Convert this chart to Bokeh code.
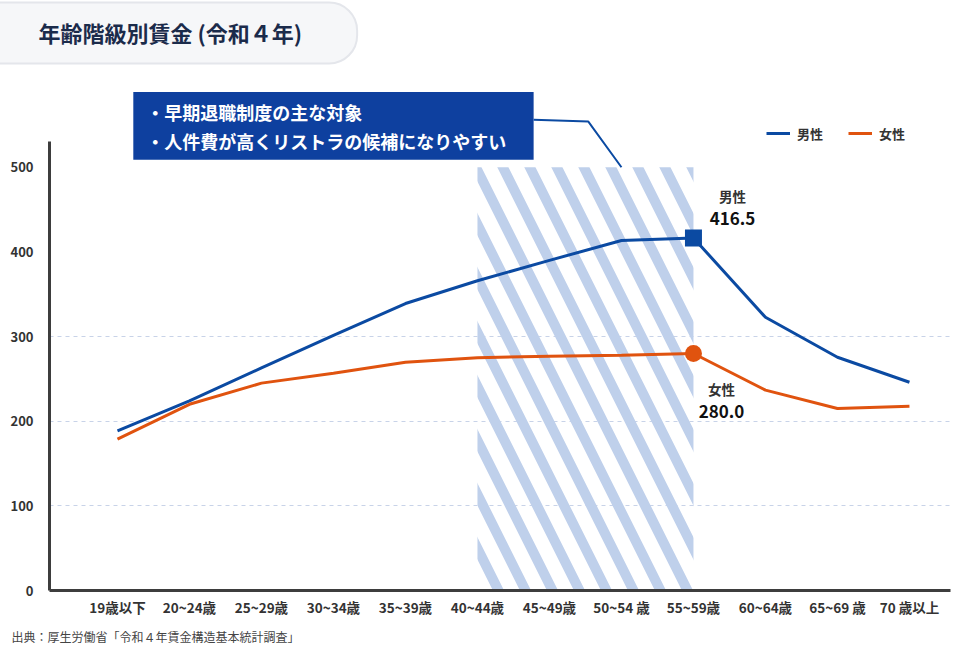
from bokeh.plotting import figure
from bokeh.models import Range1d, FixedTicker, Label, BoxAnnotation, Legend, LegendItem, Title
from bokeh.embed import file_html
from bokeh.resources import INLINE

# ---------------- data ----------------
categories = ["19歳以下", "20~24歳", "25~29歳", "30~34歳", "35~39歳", "40~44歳",
              "45~49歳", "50~54 歳", "55~59歳", "60~64歳", "65~69 歳", "70 歳以上"]
male = [188.7, 224.0, 263.0, 301.5, 339.0, 366.0, 390.0, 413.5, 416.5, 322.8, 275.6, 246.0]
female = [178.9, 220.0, 245.0, 256.6, 269.6, 275.0, 276.7, 278.0, 280.0, 236.7, 215.0, 217.8]
y_ticks = [0, 100, 200, 300, 400, 500]
grid_ticks = [100, 200, 300]
highlight = ("40~44歳", "55~59歳")
highlight_top = 500
series_names = ["男性", "女性"]
callout_lines = ["・早期退職制度の主な対象", "・人件費が高くリストラの候補になりやすい"]
title_text = "年齢階級別賃金 (令和４年)"
source_text = "出典：厚生労働省「令和４年賃金構造基本統計調査」"

BLUE = "#0b4aa2"
ORANGE = "#e0530f"
BOX = "#0e409f"
HATCH = "#bfd0eb"
FONT = "Noto Sans CJK JP"

x = list(range(len(categories)))
i_start = categories.index(highlight[0])
i_end = categories.index(highlight[1])

p = figure(width=961, height=664, output_backend="svg", toolbar_location=None,
           x_range=Range1d(-0.944, 11.57), y_range=Range1d(0, 622.6),
           min_border_left=49, min_border_right=11, min_border_top=62, min_border_bottom=74)
p.outline_line_color = None
p.background_fill_color = "white"
p.border_fill_color = "white"

# title box (above panel)
p.add_layout(Title(text=title_text, align="left", offset=-99, standoff=0,
                   text_font=FONT, text_font_style="bold", text_font_size="22px",
                   text_color="#1b2b4b", background_fill_color="#f6f7f9",
                   border_line_color="#e4e6eb", border_line_width=2,
                   padding=(88, 55, 13, 16), border_radius=28), "above")

# source (below panel)
p.add_layout(Title(text=source_text, align="left", offset=-38, standoff=13,
                   text_font=FONT, text_font_style="normal", text_font_size="12px",
                   text_color="#444444"), "below")

# axes
p.xaxis.ticker = FixedTicker(ticks=x)
p.xaxis.major_label_overrides = {i: c for i, c in enumerate(categories)}
p.yaxis.ticker = FixedTicker(ticks=y_ticks)
p.yaxis.bounds = (0, 531)
for ax in (p.xaxis[0], p.yaxis[0]):
    ax.axis_line_color = "#3d3d3d"
    ax.axis_line_width = 3
    ax.major_tick_line_color = None
    ax.minor_tick_line_color = None
    ax.major_tick_out = 0
    ax.major_tick_in = 0
    ax.major_label_text_font = FONT
    ax.major_label_text_font_style = "bold"
    ax.major_label_text_color = "#333333"
p.xaxis.major_label_text_font_size = "13.5px"
p.xaxis.major_label_standoff = 6
p.yaxis.major_label_text_font_size = "13px"
p.yaxis.major_label_standoff = 16

p.xgrid.visible = False
p.ygrid.ticker = FixedTicker(ticks=grid_ticks)
p.ygrid.grid_line_color = "#c8d3e8"
p.ygrid.grid_line_dash = "4 4"
p.ygrid.grid_line_width = 1

# highlighted hatched band
p.quad(left=[i_start], right=[i_end], bottom=[0], top=[highlight_top],
       fill_color=None, line_color=None,
       hatch_pattern="left_diagonal_line", hatch_color=HATCH,
       hatch_weight=10, hatch_scale=54)

# lines
r_m = p.line(x, male, line_color=BLUE, line_width=3)
r_f = p.line(x, female, line_color=ORANGE, line_width=3)

# end markers at highlighted group
p.scatter([i_end], [male[i_end]], marker="square", size=17, fill_color=BLUE, line_color=None)
p.scatter([i_end], [female[i_end]], marker="circle", size=17, fill_color=ORANGE, line_color=None)

# value annotations
def ann(text, yv, dx, dy, size, color):
    p.add_layout(Label(x=i_end, y=yv, x_offset=dx, y_offset=dy, text=text,
                       text_align="center", text_baseline="middle",
                       text_font=FONT, text_font_style="bold",
                       text_font_size=size, text_color=color))

ann(series_names[0], male[i_end], 39, 42, "13.5px", "#333333")
ann(f"{male[i_end]:.1f}", male[i_end], 39, 19, "17px", "#111111")
ann(series_names[1], female[i_end], 28, -36, "13.5px", "#333333")
ann(f"{female[i_end]:.1f}", female[i_end], 28, -58, "17px", "#111111")

# callout box + leader line
p.add_layout(BoxAnnotation(left=0.22, right=5.78, bottom=509, top=589,
                           fill_color=BOX, fill_alpha=1, line_color=None))
p.line([5.78, 6.54, 7.0], [556, 554, highlight_top], line_color=BLUE, line_width=2)
for yv, t in zip([565.7, 531.5], callout_lines):
    p.add_layout(Label(x=0.4, y=yv, text=t, text_align="left", text_baseline="middle",
                       text_font=FONT, text_font_style="bold", text_font_size="18px",
                       text_color="white"))

# legend
legend = Legend(items=[LegendItem(label=series_names[0], renderers=[r_m]),
                       LegendItem(label=series_names[1], renderers=[r_f])],
                orientation="horizontal", location=(717, 447),
                glyph_width=24, glyph_height=20, label_standoff=7, spacing=25,
                padding=0, margin=0, border_line_color=None, background_fill_alpha=0,
                label_text_font=FONT, label_text_font_style="bold",
                label_text_font_size="13px", label_text_color="#333333")
p.add_layout(legend)

open("out.html", "w").write(file_html(p, INLINE))
